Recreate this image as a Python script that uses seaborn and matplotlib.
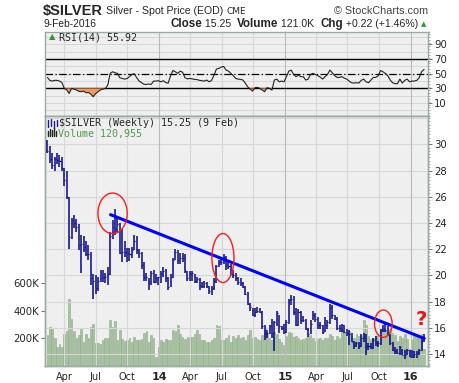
import matplotlib
matplotlib.use("Agg")
import numpy as np
import pandas as pd
import matplotlib.pyplot as plt
import matplotlib.dates as mdates
from matplotlib.patches import Ellipse
from matplotlib.lines import Line2D
from matplotlib.ticker import MultipleLocator
import seaborn as sns

# ---------------- data ----------------
first_week = "2013-02-11"

high = [30.3, 29.9, 29.3, 29.0, 29.3, 29.2, 29.0, 28.2, 28.0, 26.0, 24.4, 24.6, 24.3, 23.9, 23.1, 23.0,
        22.6, 22.3, 21.8, 20.1, 20.0, 19.9, 20.4, 20.4, 20.2, 20.6, 23.3, 24.2, 25.1, 24.5, 24.0, 23.5,
        22.6, 22.1, 22.1, 22.2, 23.1, 23.0, 22.0, 21.8, 21.0, 20.2, 19.8, 20.3, 20.4, 20.1, 19.9,
        20.3, 20.6, 20.5, 19.9, 20.1, 21.3, 22.0, 21.9, 21.7, 21.7, 21.6, 20.3, 20.3, 20.3, 20.1, 19.9,
        19.8, 19.5, 19.6, 19.5, 19.2, 19.2, 19.8, 20.8, 21.2, 21.3, 21.6, 21.5, 21.1, 20.9, 20.4, 20.2,
        19.9, 19.8, 19.5, 19.2, 18.7, 17.9, 17.5, 17.5, 17.6, 17.5, 17.3, 16.2, 15.8, 16.2, 16.7, 16.5,
        17.3, 17.0, 16.1, 16.3,
        16.6, 18.2, 18.5, 18.4, 17.5, 17.4, 17.3, 16.9, 16.7, 16.0, 16.6, 17.3, 17.1, 16.8, 16.4, 16.2,
        16.8, 16.6, 17.8, 17.7, 17.0, 16.8, 16.2, 16.3, 16.2, 15.9, 15.8, 15.6, 15.0, 14.9, 14.9, 15.5,
        15.6, 15.5, 14.8, 14.8, 15.2, 15.4, 15.0, 15.9, 16.2, 16.3, 16.1, 15.5, 14.9, 14.5, 14.4, 14.6,
        14.4, 14.3, 14.4, 14.3,
        14.3, 14.2, 14.2, 14.4, 15.3, 15.5]

low = [29.3, 28.6, 28.1, 28.0, 28.5, 28.3, 28.0, 26.8, 25.8, 22.0, 22.8, 23.6, 23.3, 21.9, 20.2, 21.8,
       21.5, 21.2, 19.3, 18.2, 18.6, 18.8, 19.5, 19.5, 19.4, 19.3, 20.0, 22.8, 23.1, 23.3, 21.6, 21.0,
       21.4, 21.0, 21.1, 21.3, 21.9, 21.6, 21.3, 20.5, 19.6, 19.6, 18.9, 19.3, 19.4, 19.4, 19.3,
       19.4, 19.9, 19.5, 18.9, 19.1, 19.8, 21.2, 20.9, 20.9, 21.0, 20.2, 19.6, 19.6, 19.6, 19.4, 19.4,
       18.9, 19.0, 19.0, 19.0, 18.6, 18.5, 18.9, 19.4, 20.6, 20.8, 20.9, 20.4, 20.5, 20.0, 19.8, 19.6,
       19.3, 19.2, 19.0, 18.5, 17.7, 17.3, 16.9, 16.8, 17.1, 17.1, 15.9, 15.1, 15.2, 15.5, 15.2, 14.2,
       16.1, 15.6, 15.8, 15.5,
       15.6, 16.3, 17.7, 17.0, 16.1, 16.1, 16.3, 16.4, 15.8, 15.3, 15.5, 16.6, 16.4, 15.9, 15.9, 15.5,
       15.7, 15.9, 16.3, 16.7, 16.6, 15.8, 15.7, 15.7, 15.6, 15.4, 14.7, 14.9, 14.4, 14.5, 14.4, 14.5,
       14.9, 13.9, 14.3, 14.4, 14.4, 14.6, 14.5, 14.7, 15.7, 15.7, 15.4, 14.7, 14.2, 14.0, 14.0, 13.9,
       13.9, 13.6, 13.9, 13.8,
       13.7, 13.7, 13.7, 13.9, 14.2, 14.9]

close = [29.5, 28.9, 28.4, 28.9, 28.8, 28.7, 28.2, 27.3, 26.0, 22.9, 24.2, 24.0, 23.7, 22.3, 22.4, 22.2,
         21.6, 21.6, 19.8, 19.6, 19.0, 19.6, 19.8, 19.9, 19.9, 20.1, 23.0, 23.7, 23.5, 23.9, 21.7, 21.8,
         21.8, 21.7, 21.6, 21.9, 22.6, 21.9, 21.7, 20.8, 19.9, 19.9, 19.5, 20.2, 19.5, 19.8, 19.9,
         20.1, 20.3, 19.8, 19.1, 19.9, 21.2, 21.8, 21.2, 21.3, 21.3, 20.3, 19.8, 20.1, 20.2, 19.6, 19.7,
         19.2, 19.2, 19.4, 19.2, 18.8, 19.0, 19.6, 20.7, 21.0, 21.0, 21.4, 20.8, 20.7, 20.1, 20.0, 19.8,
         19.5, 19.4, 19.1, 18.6, 17.8, 17.6, 17.0, 17.2, 17.3, 17.2, 16.1, 15.6, 15.6, 16.1, 15.6, 16.4,
         17.1, 16.1, 16.0, 15.7,
         16.4, 18.1, 18.2, 17.2, 16.2, 17.2, 16.6, 16.6, 15.9, 15.5, 16.3, 17.0, 16.7, 16.2, 16.2, 15.7,
         16.2, 16.4, 17.6, 17.0, 16.7, 16.0, 16.0, 16.2, 15.7, 15.6, 15.5, 14.9, 14.7, 14.8, 14.6, 15.2,
         15.3, 14.6, 14.6, 14.5, 15.1, 14.8, 14.8, 15.8, 15.9, 15.8, 15.5, 14.8, 14.3, 14.2, 14.1, 14.5,
         13.9, 13.9, 14.3, 13.8,
         13.9, 14.0, 14.1, 14.3, 15.0, 15.25]

volume_k = [224, 280, 272, 205, 139, 163, 139, 236, 255, 490, 345, 255, 206, 229, 272, 175, 236, 200,
            280, 302, 170, 170, 163, 192, 200, 206, 333, 280, 325, 187, 260, 195, 180, 187, 200, 175,
            212, 187, 192, 195, 243, 252, 175, 224, 200, 66, 139,
            192, 175, 195, 187, 187, 265, 255, 297, 231, 212, 195, 212, 212, 212, 231, 265, 236, 187,
            187, 175, 175, 187, 206, 297, 290, 192, 187, 206, 224, 175, 215, 205, 224, 200, 212, 190,
            224, 260, 200, 212, 195, 190, 224, 272, 230, 205, 190, 250, 230, 195, 175, 150,
            215, 250, 240, 210, 220, 200, 190, 195, 205, 215, 225, 200, 185, 195, 200, 190, 205, 200,
            230, 215, 190, 220, 200, 265, 250, 215, 255, 210, 200, 230, 215, 225, 333, 297, 215, 195,
            205, 215, 225, 265, 275, 260, 250, 270, 240, 225, 180, 215, 205, 230, 195, 120,
            190, 230, 215, 205, 232, 121]

rsi14 = [45, 41, 40, 41, 41, 40, 38, 30, 28, 23,
         30, 29, 28, 26, 25.5, 26.4, 24, 24.5, 22, 18.6,
         23, 25.5, 28, 29, 30, 34.5, 50.5, 52.7, 51.4, 50.5,
         44.5, 43.6, 42.7, 43.6, 46, 49, 50, 44.5, 40, 37.7,
         35.5, 35.5, 36, 35.5, 40, 40, 40.5, 39, 40.5, 38,
         37, 47, 54.5, 52.7, 50.5, 53.6, 52, 44.5, 43, 43.6,
         43, 42.3, 42, 41, 40.5, 40, 41.4, 39, 41, 48,
         56.4, 57.3, 59, 60, 55, 53.6, 50.5, 47.3, 43.6, 42.7,
         42.3, 41.4, 37, 32, 29, 26.4, 31, 31.4, 30, 27.7,
         25.5, 31, 30, 27.7, 41.4, 42.7, 39, 40, 39, 46,
         53.6, 55, 49, 46, 48, 46, 46, 41.4, 42.7, 49,
         50.5, 49, 47.3, 45.5, 42.7, 46, 49, 55, 51.4, 47.3,
         45, 45, 46, 44, 42.7, 40, 37.7, 37.3, 37.7, 37.3,
         41, 42.7, 39, 37.7, 41.4, 45, 45, 47.3, 54.5, 52.7,
         50.5, 47.3, 41.4, 37.7, 36.4, 36.4, 42.7, 37.3, 41, 42.7,
         39, 40, 40, 41, 44.5, 52.7, 55.92]

trend_dates = ["2013-08-13", "2016-02-08"]
trend_prices = [24.63, 15.19]

circle_dates = ["2013-08-19", "2014-07-05", "2015-10-13"]
circle_prices = [24.73, 21.32, 16.31]
circle_width_days = [85, 64, 51]
circle_height_price = [3.1, 3.74, 2.08]
question_date = "2016-02-01"
question_price = 16.6

price_ticks = [14, 16, 18, 20, 22, 24, 26, 28, 30]
volume_ticks = [200000, 400000, 600000]
volume_labels = ["200K", "400K", "600K"]
rsi_ticks = [10, 30, 50, 70, 90]
x_tick_dates = ["2013-04-01", "2013-07-01", "2013-10-01", "2014-01-01", "2014-04-01", "2014-07-01",
                "2014-10-01", "2015-01-01", "2015-04-01", "2015-07-01", "2015-10-01", "2016-01-01"]
x_tick_labels = ["Apr", "Jul", "Oct", "14", "Apr", "Jul", "Oct", "15", "Apr", "Jul", "Oct", "16"]
x_range = ["2013-02-04", "2016-02-21"]

header_pieces = [("Close", "bold"), (" 15.25  ", "normal"), ("Volume", "bold"),
                 (" 121.0K  ", "normal"), ("Chg", "bold"), (" +0.22 (+1.46%)", "normal")]

# ---------------- frame ----------------
df = pd.DataFrame({"high": high, "low": low, "close": close,
                   "volume": np.array(volume_k) * 1000.0, "rsi": rsi14})
df["date"] = pd.date_range(first_week, periods=len(df), freq="7D")

sns.set_style("white")
plt.rcParams["font.family"] = ["DejaVu Sans"]

W, H = 460, 383
fig = plt.figure(figsize=(4.6, 3.83), dpi=100)
fig.patch.set_facecolor("white")
renderer = fig.canvas.get_renderer()


def fx(x):
    return x / W


def fy(y):
    return 1 - y / H


left, right = 45, 428.5
ax_rsi = fig.add_axes([fx(left), fy(115.5), fx(right - left), (115.5 - 32) / H])
ax_vol = fig.add_axes([fx(left), fy(366), fx(right - left), (366 - 116) / H])
ax_px = ax_vol.twinx()

bg = "#efefef"
spine_c = "#98ada0"
grid_c = "#d7d7d7"
year_c = "#b9b9b9"
xmin, xmax = pd.to_datetime(x_range[0]), pd.to_datetime(x_range[1])
tick_dates = pd.to_datetime(x_tick_dates)

# ---------------- RSI panel ----------------
ax_rsi.set_facecolor(bg)
for v in range(0, 101, 10):
    ax_rsi.axhline(v, color=grid_c, lw=0.7, zorder=0)
for d in tick_dates:
    ax_rsi.axvline(d, color=year_c if d.month == 1 else grid_c, lw=0.8, zorder=0)
ax_rsi.axhline(70, color="black", lw=1.0, zorder=1)
ax_rsi.axhline(30, color="black", lw=1.0, zorder=1)
ax_rsi.axhline(50, color="black", lw=0.9, dashes=(6, 2, 1, 2), zorder=1)
ax_rsi.fill_between(df["date"], df["rsi"], 30, where=df["rsi"] < 30, interpolate=True,
                    color="#f29a5c", zorder=2, lw=0)
sns.lineplot(data=df, x="date", y="rsi", ax=ax_rsi, color="#222222", lw=0.8, zorder=3)
ax_rsi.set_ylim(-7, 107)
ax_rsi.set_xlim(xmin, xmax)
ax_rsi.set_xlabel("")
ax_rsi.set_ylabel("")
ax_rsi.set_xticks(tick_dates)
ax_rsi.set_xticklabels([])
ax_rsi.tick_params(axis="x", length=0)
ax_rsi.yaxis.tick_right()
ax_rsi.set_yticks(rsi_ticks)
ax_rsi.set_yticklabels([str(t) for t in rsi_ticks])
ax_rsi.yaxis.set_minor_locator(MultipleLocator(4))
ax_rsi.tick_params(axis="y", which="major", length=3, width=0.8, color="#777777", pad=1,
                   labelsize=7.3, direction="out")
ax_rsi.tick_params(axis="y", which="minor", length=1.5, width=0.6, color="#999999", right=True)
for s in ax_rsi.spines.values():
    s.set_color(spine_c)
    s.set_linewidth(1.0)

# ---------------- Volume (behind) ----------------
ax_vol.set_facecolor(bg)
ax_vol.bar(df["date"], df["volume"], width=5.0, color="#a6c29e", edgecolor="#8cab86",
           linewidth=0.4, zorder=2)
ax_vol.set_ylim(0, 1818000)
ax_vol.set_xlim(xmin, xmax)
ax_vol.set_yticks(volume_ticks)
ax_vol.set_yticklabels(volume_labels)
ax_vol.tick_params(axis="y", length=3, width=0.8, color="#777777", pad=1, labelsize=7.3)
ax_vol.set_xticks(tick_dates)
ax_vol.set_xticklabels(x_tick_labels)
ax_vol.tick_params(axis="x", length=3, width=0.8, color="#777777", pad=1.5, labelsize=7)
for lab in ax_vol.get_xticklabels():
    if lab.get_text().isdigit():
        lab.set_fontweight("bold")
        lab.set_fontsize(8)
for s in ax_vol.spines.values():
    s.set_color(spine_c)
    s.set_linewidth(1.0)

# ---------------- Price panel ----------------
ax_px.patch.set_visible(False)
for p in price_ticks + [32]:
    ax_px.axhline(p, color=grid_c, lw=0.8, zorder=0)
for d in tick_dates:
    ax_px.axvline(d, color=year_c if d.month == 1 else grid_c, lw=0.8, zorder=0)

navy = "#06068a"
ax_px.vlines(df["date"], df["low"], df["high"], color=navy, lw=1.1, zorder=3)
ax_px.hlines(df["close"], df["date"], df["date"] + pd.Timedelta(days=3), color=navy, lw=0.9, zorder=3)

sns.lineplot(x=pd.to_datetime(trend_dates), y=trend_prices, ax=ax_px, color="#0000ff", lw=2.2, zorder=4)

for d, p, w, h in zip(circle_dates, circle_prices, circle_width_days, circle_height_price):
    ax_px.add_patch(Ellipse((mdates.date2num(pd.to_datetime(d)), p), float(w), h,
                            fill=False, edgecolor="#ff1a1a", lw=1.0, zorder=5))
ax_px.text(mdates.date2num(pd.to_datetime(question_date)), question_price, "?", color="#ee1111",
           fontsize=14, fontweight="bold", ha="center", va="center", zorder=6)

ax_px.set_ylim(13.08, 32.16)
ax_px.set_xlim(xmin, xmax)
ax_px.set_ylabel("")
ax_px.set_xlabel("")
ax_px.set_yticks(price_ticks)
ax_px.set_yticklabels([str(t) for t in price_ticks])
ax_px.yaxis.set_minor_locator(MultipleLocator(0.25))
ax_px.tick_params(axis="y", which="major", length=3, width=0.8, color="#777777", pad=1, labelsize=7.3)
ax_px.tick_params(axis="y", which="minor", length=1.5, width=0.6, color="#999999")
for s in ax_px.spines.values():
    s.set_color(spine_c)
    s.set_linewidth(1.0)

# ---------------- header texts ----------------
t1 = fig.text(fx(43), fy(10.5), "$SILVER", fontsize=10.5, fontweight="bold", family="Liberation Sans",
              ha="left", va="center")
x_next = 43 + t1.get_window_extent(renderer=renderer).width + 3
t2 = fig.text(fx(x_next), fy(11), "Silver - Spot Price (EOD)", fontsize=7.6, family="Liberation Sans",
              ha="left", va="center")
x_next += t2.get_window_extent(renderer=renderer).width + 3
fig.text(fx(x_next), fy(11.5), "CME", fontsize=6.5, family="DejaVu Sans", ha="left", va="center")
fig.text(fx(428), fy(11), "\u00a9 StockCharts.com", fontsize=7.8, family="Liberation Sans",
         color="#444444", ha="right", va="center")

fig.text(fx(44), fy(24), "9-Feb-2016", fontsize=7.4, family="Liberation Sans", ha="left", va="center")

# header line 2: lay pieces out right-to-left ending before the triangle
x_cursor = 418.0
for t, wgt in reversed(header_pieces):
    txt = fig.text(fx(x_cursor), fy(24), t, fontsize=7.6 if wgt == "normal" else 8.4,
                   fontweight=wgt, family="Liberation Sans", ha="right", va="center")
    bb = txt.get_window_extent(renderer=renderer)
    x_cursor -= bb.width
fig.text(fx(424), fy(24.5), "\u25b2", fontsize=5, color="#1fa01f", ha="center", va="center")

# panel legends
fig.text(fx(52), fy(37), "\u25b2", fontsize=6, color="#3c8c3c", ha="center", va="center")
fig.text(fx(59), fy(37), "RSI(14) 55.92", fontsize=7.2, family="DejaVu Sans Mono",
         ha="left", va="center")
fig.text(fx(59), fy(123.5), "$SILVER (Weekly) 15.25 (9 Feb)", fontsize=7.2,
         family="DejaVu Sans Mono", ha="left", va="center")
fig.text(fx(58), fy(133.5), "Volume 120,955", fontsize=7.2, family="DejaVu Sans Mono",
         color="#4f9a4f", ha="left", va="center")
for x0, y0, y1 in [(48, 120, 127), (51, 119, 126), (54, 121, 128), (57, 120, 126)]:
    fig.add_artist(Line2D([fx(x0)] * 2, [fy(y0), fy(y1)], color="#1a1a9a", lw=1.0))
for x0, y0 in [(48, 131), (50, 129), (52, 130), (54, 128), (56, 131)]:
    fig.add_artist(Line2D([fx(x0)] * 2, [fy(y0), fy(136)], color="#222222", lw=1.0))

fig.savefig("out.png", dpi=100, facecolor="white")
